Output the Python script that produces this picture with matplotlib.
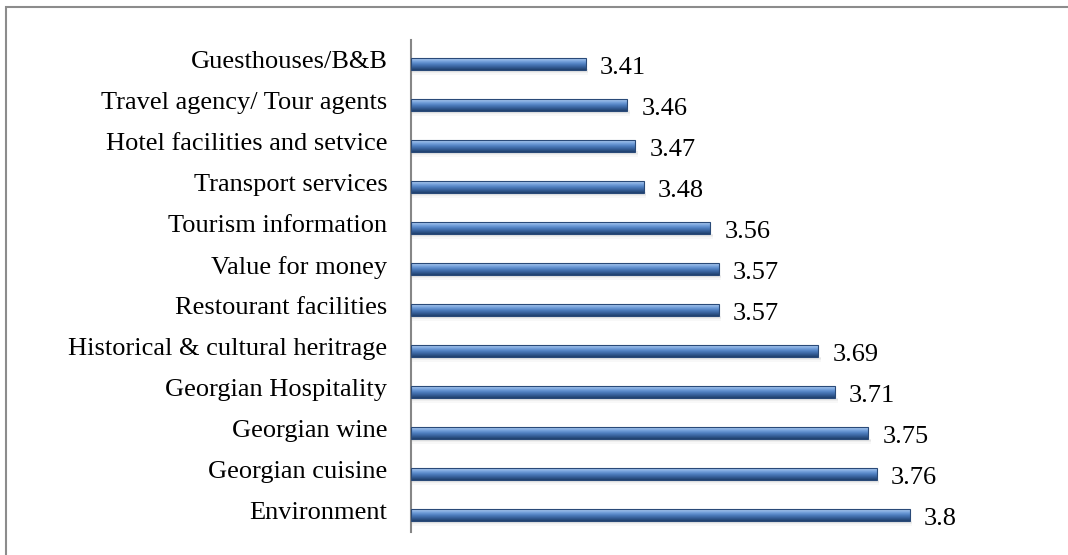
import matplotlib
matplotlib.use("Agg")
from matplotlib import pyplot as plt
from matplotlib import patches
import numpy as np

categories = [
    "Environment",
    "Georgian cuisine",
    "Georgian wine",
    "Georgian Hospitality",
    "Historical & cultural heritrage",
    "Restourant facilities",
    "Value for money",
    "Tourism information",
    "Transport services",
    "Hotel facilities and setvice",
    "Travel agency/ Tour agents",
    "Guesthouses/B&B",
]
values = [3.8, 3.76, 3.75, 3.71, 3.69, 3.57, 3.57, 3.56, 3.48, 3.47, 3.46, 3.41]
value_labels = ["3.8", "3.76", "3.75", "3.71", "3.69", "3.57", "3.57", "3.56",
                "3.48", "3.47", "3.46", "3.41"]

XMIN, XMAX = 3.2, 3.9

plt.rcParams["font.family"] = ["Liberation Serif", "DejaVu Serif"]

fig = plt.figure(figsize=(10.68, 5.55), dpi=100)
ax = fig.add_axes([0.3848, 0.0414, 0.545, 0.8866])

# vertical gradient for the "cylinder" look (top light, bottom dark)
grad = np.linspace(0, 1, 64).reshape(-1, 1)
cmap = matplotlib.colors.LinearSegmentedColormap.from_list(
    "bar", ["#b4d0f2", "#7aa5de", "#4f7fc0", "#365f98", "#1f3f6c"]
)

h = 0.28
off = -0.09  # bars sit a little below the label centre
for i, v in enumerate(values):
    yc = i + off
    # soft shadow under the bar
    for k, a in enumerate([0.12, 0.08, 0.05]):
        ax.add_patch(patches.Rectangle((XMIN, yc - h / 2 - 0.05 - 0.035 * k),
                                       v - XMIN + 0.003, 0.06,
                                       color="#7f7f7f", alpha=a, lw=0, zorder=1))
    ax.imshow(grad, extent=(XMIN, v, yc - h / 2, yc + h / 2), cmap=cmap,
              aspect="auto", origin="upper", zorder=2, interpolation="bilinear")
    ax.add_patch(patches.Rectangle((XMIN, yc - h / 2), v - XMIN, h, fill=False,
                                   edgecolor="#2a4a78", lw=0.8, zorder=3))
    ax.text(v + 0.017, yc - 0.1, value_labels[i], fontsize=19, va="center",
            ha="left", color="black")

ax.set_xlim(XMIN, XMAX)
ax.set_ylim(-0.5, len(categories) - 0.5)
ax.set_yticks([i + 0.02 for i in range(len(categories))])
ax.set_yticklabels(categories, fontsize=19)
ax.tick_params(axis="y", length=0, pad=17)
ax.set_xticks([])
for s in ["top", "right", "bottom"]:
    ax.spines[s].set_visible(False)
ax.spines["left"].set_color("#868686")
ax.spines["left"].set_linewidth(1.5)

# outer chart border (runs off the right and bottom edges)
fig.patches.append(patches.Rectangle((6 / 1068, -0.1), 1.2, 1.1 - 7 / 555,
                                     transform=fig.transFigure, fill=False,
                                     edgecolor="#8c8c8c", lw=1.5))

fig.savefig("out.png", dpi=100)
